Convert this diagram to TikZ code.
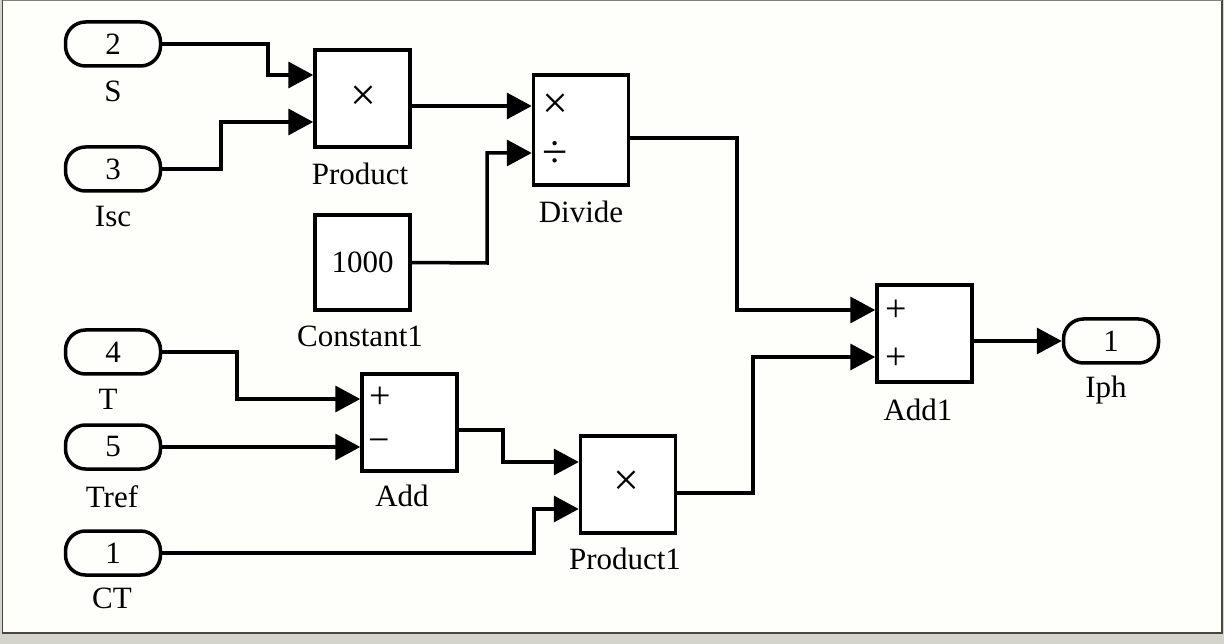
\documentclass[tikz,border=0pt]{standalone}
\usepackage{fontspec}
\setmainfont{Liberation Serif}
\usetikzlibrary{arrows.meta}
\definecolor{bgcream}{RGB}{254,254,250}
\definecolor{bandgrey}{RGB}{212,212,204}
\definecolor{framegrey}{RGB}{70,72,62}
\tikzset{
  px/.style={x=1pt,y=-1pt},
  blk/.style={draw,line width=3.5pt,fill=white,minimum width=95pt,inner sep=0pt},
  port/.style={draw,line width=3.5pt,rounded corners=20pt,minimum width=95pt,minimum height=44pt,inner sep=0pt,font=\fontsize{31}{34}\selectfont},
  lbl/.style={anchor=base,inner sep=0pt,font=\fontsize{31}{34}\selectfont},
  sym/.style={inner sep=0pt,font=\fontsize{46}{48}\selectfont},
  ssym/.style={inner sep=0pt,font=\fontsize{38}{40}\selectfont},
  conn/.style={line width=3.5pt,-{Triangle[length=25pt,width=26pt]}},
}
\begin{document}
\begin{tikzpicture}[px]
\useasboundingbox (0,0) rectangle (1224,644);
\fill[bandgrey] (0,0) rectangle (1224,644);
\fill[bgcream] (2,1) rectangle (1222,633);
\draw[framegrey,line width=1.5pt] (2.5,0) -- (2.5,633) -- (1222,633) -- (1222,0);
\draw[gray,line width=0.8pt] (2.5,0.5) -- (1222,0.5);

% inports
\node[port] (S) at (113,44) {2};
\node[port] (Isc) at (113,169) {3};
\node[port] (T) at (113,352) {4};
\node[port] (Tref) at (113,447) {5};
\node[port] (CT) at (113,553) {1};
\node[port] (Iph) at (1111,341) {1};
\node[lbl] (lS) at (113,102) {S};
\node[lbl] (lIsc) at (113,227) {Isc};
\node[lbl] (lT) at (108,409) {T};
\node[lbl] (lTref) at (112,507) {Tref};
\node[lbl] (lCT) at (112,608) {CT};
\node[lbl] (lIph) at (1106,397) {Iph};

% blocks
\node[blk,minimum height=97pt] (prod) at (362.5,98.5) {};
\node[sym] (prodx) at (363,98) {×};
\node[lbl] (lprod) at (360,185) {Product};

\node[blk,minimum height=110pt] (div) at (581,130) {};
\node[sym] (divx) at (555,106) {×};
\node[sym] (divd) at (555,154) {÷};
\node[lbl] (ldiv) at (581,223) {Divide};

\node[blk,minimum height=95pt,font=\fontsize{31}{34}\selectfont] (const) at (362.5,262.5) {1000};
\node[lbl] (lconst) at (360,347) {Constant1};

\node[blk,minimum height=97pt] (add1) at (924.5,333.5) {};
\node[ssym] (add1a) at (896,311) {+};
\node[ssym] (add1b) at (896,359) {+};
\node[lbl] (ladd1) at (918,420) {Add1};

\node[blk,minimum height=97pt] (add) at (409.5,422.5) {};
\node[ssym] (adda) at (380,398) {+};
\node[ssym] (addb) at (379,446) {−};
\node[lbl] (ladd) at (402,506) {Add};

\node[blk,minimum height=97pt] (prod1) at (628,484.5) {};
\node[sym] (prod1x) at (626,483) {×};
\node[lbl] (lprod1) at (625,569) {Product1};

% connectors
\draw[conn] (S.east) -- (268,44) -- (268,75) -- (prod.west|-0,75);
\draw[conn] (Isc.east) -- (221,169) -- (221,122) -- (prod.west|-0,122);
\draw[conn] (prod.east|-0,106) -- (div.west|-0,106);
\draw[conn] (const.east) -- (487,263) -- (487,153) -- (div.west|-0,153);
\draw[conn] (div.east|-0,138) -- (737,138) -- (737,310) -- (add1.west|-0,310);
\draw[conn] (T.east) -- (237,352) -- (237,399) -- (add.west|-0,399);
\draw[conn] (Tref.east) -- (add.west|-0,447);
\draw[conn] (add.east|-0,430) -- (503,430) -- (503,462) -- (prod1.west|-0,462);
\draw[conn] (CT.east) -- (534,553) -- (534,509) -- (prod1.west|-0,509);
\draw[conn] (prod1.east|-0,493) -- (753,493) -- (753,357) -- (add1.west|-0,357);
\draw[conn] (add1.east|-0,341) -- (Iph.west);
\end{tikzpicture}
\end{document}
